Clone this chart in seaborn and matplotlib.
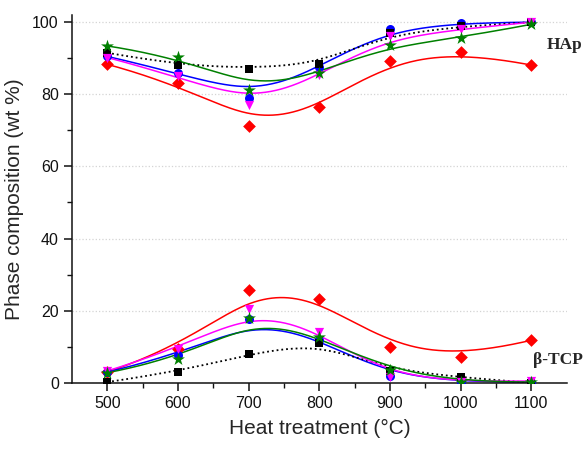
import numpy as np
import pandas as pd
import matplotlib
matplotlib.use("Agg")
import matplotlib.pyplot as plt
import seaborn as sns

# ---------------- data ----------------
temps = [500, 600, 700, 800, 900, 1000, 1100]
x_ticks = [500, 600, 700, 800, 900, 1000, 1100]
y_ticks = [0, 20, 40, 60, 80, 100]

hap_black = [91.5, 88.1, 87.1, 88.5, 97.0, 98.8, 100.0]
hap_blue = [90.5, 86.0, 79.0, 87.6, 98.2, 99.8, 100.0]
hap_magenta = [90.2, 85.0, 77.0, 85.3, 96.1, 98.0, 100.0]
hap_green = [93.4, 90.4, 81.2, 86.0, 93.6, 95.7, 99.4]
hap_red = [88.3, 83.0, 71.3, 76.5, 89.3, 91.8, 88.1]

tcp_black = [0.2, 3.1, 8.0, 11.1, 3.3, 1.5, 0.0]
tcp_blue = [3.0, 7.6, 17.6, 12.0, 2.0, 0.2, 0.2]
tcp_magenta = [3.3, 9.3, 20.5, 14.0, 1.7, 0.3, 0.5]
tcp_green = [2.8, 6.5, 18.0, 12.6, 3.5, 0.3, 0.2]
tcp_red = [3.0, 9.5, 25.6, 23.2, 10.0, 7.2, 11.8]

series = [
    # (hap, tcp, color, marker, linestyle)
    (hap_red, tcp_red, "#ff0000", "D", "-"),
    (hap_blue, tcp_blue, "#0000ff", "o", "-"),
    (hap_black, tcp_black, "#000000", "s", ":"),
    (hap_magenta, tcp_magenta, "#ff00ff", "v", "-"),
    (hap_green, tcp_green, "#008000", "*", "-"),
]


def bspline(xs, ys, k=3, num=300):
    """Clamped uniform B-spline with the data points as control points."""
    xs = np.asarray(xs, float)
    ys = np.asarray(ys, float)
    n = len(xs)
    knots = np.concatenate([np.zeros(k + 1), np.arange(1, n - k),
                            np.full(k + 1, n - k)]).astype(float)
    t = np.linspace(0, n - k, num)
    t[-1] -= 1e-9
    B = np.array([(knots[i] <= t) & (t < knots[i + 1])
                  for i in range(len(knots) - 1)], float)
    for p in range(1, k + 1):
        Bn = np.zeros((len(knots) - 1 - p, num))
        for i in range(len(knots) - 1 - p):
            d1 = knots[i + p] - knots[i]
            d2 = knots[i + p + 1] - knots[i + 1]
            a = (t - knots[i]) / d1 * B[i] if d1 > 0 else 0
            b = (knots[i + p + 1] - t) / d2 * B[i + 1] if d2 > 0 else 0
            Bn[i] = a + b
        B = Bn
    return B.T @ xs, B.T @ ys


# ---------------- style ----------------
sns.set_style("ticks")
plt.rcParams["font.family"] = ["Liberation Sans", "DejaVu Sans"]

fig = plt.figure(figsize=(5.83, 4.53), dpi=100)
ax = fig.add_axes([0.1235, 0.155, 0.8485, 0.812])

for hap, tcp, col, mk, ls in series:
    for vals in (hap, tcp):
        cx, cy = bspline(temps, vals)
        sns.lineplot(x=cx, y=cy, sort=False, estimator=None, ax=ax,
                     color=col, linewidth=1.1 if ls == "-" else 1.3,
                     linestyle=ls, zorder=2)

for hap, tcp, col, mk, ls in series:
    size = {"*": 95, "D": 42, "s": 40, "o": 42, "v": 44}[mk]
    for vals in (hap, tcp):
        sns.scatterplot(x=temps, y=vals, ax=ax, color=col, marker=mk,
                        s=size, linewidth=0, zorder=3)

ax.set_xlim(450, 1150)
ax.set_ylim(0, 102)
ax.set_xticks(x_ticks)
ax.set_yticks(y_ticks)
ax.set_xticks(np.arange(550, 1150, 100), minor=True)
ax.set_yticks(np.arange(10, 100, 20), minor=True)
ax.yaxis.grid(True, which="major", color="#d4d4d4", linestyle=":", linewidth=0.9)
ax.set_axisbelow(True)

for s in ("top", "right"):
    ax.spines[s].set_visible(False)
for s in ("left", "bottom"):
    ax.spines[s].set_linewidth(1.1)
    ax.spines[s].set_color("#111111")

ax.tick_params(which="major", direction="out", length=6, width=1.1,
               labelsize=11.5, colors="#111111")
ax.tick_params(which="minor", direction="out", length=3.5, width=1.0,
               colors="#111111")

ax.set_xlabel("Heat treatment (°C)", fontsize=15, labelpad=6)
ax.set_ylabel("Phase composition (wt %)", fontsize=15, labelpad=6)

ax.text(1122, 93.8, "HAp", fontsize=12.5, fontweight="bold",
        family=["Liberation Serif", "DejaVu Serif"], va="center", ha="left",
        clip_on=False)
ax.text(1102, 6.3, "β-TCP", fontsize=12.5, fontweight="bold",
        family=["Liberation Serif", "DejaVu Serif"], va="center", ha="left",
        clip_on=False)

fig.savefig("out.png", dpi=100)
